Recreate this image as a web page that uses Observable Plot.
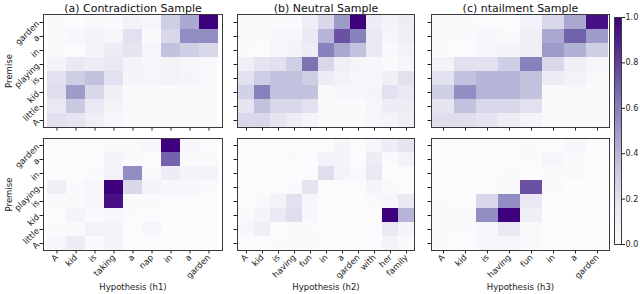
<!DOCTYPE html>
<html>
<head>
<meta charset="utf-8">
<script src="https://cdn.jsdelivr.net/npm/d3@7"></script>
<script src="https://cdn.jsdelivr.net/npm/@observablehq/plot@0.6"></script>
<style>
  html, body { margin: 0; padding: 0; background: #fff; }
  #chart { position: relative; width: 640px; height: 294px; overflow: hidden; font-family: "DejaVu Sans", sans-serif; }
  #chart svg { position: absolute; overflow: visible; }
</style>
</head>
<body>
<div id="chart"></div>
<script>
// Premise words (bottom -> top on the y axis)
const premise = ["A", "little", "kid", "is", "playing", "in", "a", "garden"];
// Hypothesis words
const h1 = ["A", "kid", "is", "taking", "a", "nap", "in", "a", "garden"];
const h2 = ["A", "kid", "is", "having", "fun", "in", "a", "garden", "with", "her", "family"];
const h3 = ["A", "kid", "is", "having", "fun", "in", "a", "garden"];
const titles = ["(a) Contradiction Sample", "(b) Neutral Sample", "(c) ntailment Sample"];
const xLabels = ["Hypothesis (h1)", "Hypothesis (h2)", "Hypothesis (h3)"];
const yLabel = "Premise";
const cbTicks = [0, 0.2, 0.4, 0.6, 0.8, 1.0];

// Attention matrices, rows listed top -> bottom (garden, a, in, playing, is, kid, little, A)
const contraTop = [
  [0.03, 0.01, 0.03, 0.03, 0.08, 0.05, 0.30, 0.45, 1.00],
  [0.02, 0.04, 0.07, 0.05, 0.20, 0.02, 0.25, 0.55, 0.55],
  [0.02, 0.01, 0.06, 0.12, 0.18, 0.05, 0.35, 0.30, 0.25],
  [0.07, 0.15, 0.12, 0.15, 0.07, 0.05, 0.07, 0.04, 0.03],
  [0.20, 0.30, 0.35, 0.20, 0.06, 0.05, 0.08, 0.06, 0.03],
  [0.22, 0.50, 0.25, 0.10, 0.03, 0.02, 0.02, 0.02, 0.02],
  [0.15, 0.32, 0.15, 0.07, 0.03, 0.02, 0.02, 0.02, 0.02],
  [0.20, 0.18, 0.10, 0.05, 0.03, 0.02, 0.02, 0.02, 0.02]
];
const contraBottom = [
  [0.01, 0.01, 0.01, 0.03, 0.03, 0.05, 1.00, 0.04, 0.01],
  [0.01, 0.01, 0.01, 0.06, 0.03, 0.01, 0.70, 0.02, 0.02],
  [0.01, 0.01, 0.02, 0.08, 0.55, 0.03, 0.12, 0.07, 0.08],
  [0.10, 0.02, 0.05, 1.00, 0.25, 0.07, 0.04, 0.04, 0.03],
  [0.03, 0.03, 0.04, 0.95, 0.03, 0.02, 0.01, 0.01, 0.01],
  [0.01, 0.06, 0.02, 0.04, 0.02, 0.01, 0.01, 0.01, 0.01],
  [0.02, 0.02, 0.08, 0.07, 0.01, 0.05, 0.01, 0.01, 0.01],
  [0.05, 0.12, 0.02, 0.07, 0.01, 0.01, 0.01, 0.01, 0.01]
];
const neutralTop = [
  [0.03, 0.03, 0.02, 0.02, 0.10, 0.25, 0.50, 1.00, 0.12, 0.07, 0.12],
  [0.03, 0.03, 0.04, 0.05, 0.15, 0.40, 0.75, 0.60, 0.15, 0.05, 0.10],
  [0.02, 0.01, 0.05, 0.07, 0.12, 0.60, 0.45, 0.35, 0.15, 0.03, 0.08],
  [0.10, 0.18, 0.20, 0.30, 0.65, 0.25, 0.10, 0.06, 0.04, 0.03, 0.05],
  [0.20, 0.30, 0.35, 0.35, 0.30, 0.12, 0.08, 0.04, 0.05, 0.10, 0.20],
  [0.28, 0.60, 0.35, 0.35, 0.35, 0.03, 0.04, 0.05, 0.06, 0.20, 0.15],
  [0.18, 0.35, 0.25, 0.25, 0.20, 0.03, 0.02, 0.02, 0.05, 0.12, 0.12],
  [0.25, 0.25, 0.18, 0.12, 0.06, 0.03, 0.03, 0.03, 0.05, 0.07, 0.10]
];
const neutralBottom = [
  [0.01, 0.01, 0.01, 0.01, 0.01, 0.01, 0.06, 0.01, 0.05, 0.12, 0.18],
  [0.01, 0.01, 0.01, 0.02, 0.01, 0.08, 0.06, 0.01, 0.12, 0.02, 0.08],
  [0.01, 0.01, 0.01, 0.01, 0.01, 0.22, 0.07, 0.03, 0.15, 0.01, 0.01],
  [0.01, 0.01, 0.01, 0.02, 0.18, 0.01, 0.01, 0.01, 0.06, 0.03, 0.01],
  [0.01, 0.03, 0.08, 0.20, 0.04, 0.01, 0.01, 0.01, 0.03, 0.05, 0.15],
  [0.03, 0.06, 0.15, 0.22, 0.04, 0.01, 0.01, 0.01, 0.01, 1.00, 0.40],
  [0.04, 0.10, 0.01, 0.02, 0.02, 0.01, 0.01, 0.01, 0.01, 0.15, 0.06],
  [0.01, 0.01, 0.02, 0.03, 0.03, 0.01, 0.01, 0.01, 0.01, 0.08, 0.02]
];
const entailTop = [
  [0.02, 0.02, 0.01, 0.01, 0.08, 0.25, 0.45, 0.95],
  [0.02, 0.02, 0.04, 0.03, 0.10, 0.45, 0.70, 0.50],
  [0.02, 0.01, 0.05, 0.06, 0.10, 0.50, 0.42, 0.30],
  [0.08, 0.20, 0.20, 0.30, 0.60, 0.25, 0.10, 0.05],
  [0.20, 0.35, 0.40, 0.40, 0.35, 0.12, 0.08, 0.03],
  [0.30, 0.55, 0.40, 0.40, 0.35, 0.03, 0.03, 0.02],
  [0.18, 0.35, 0.25, 0.25, 0.20, 0.02, 0.02, 0.02],
  [0.22, 0.22, 0.18, 0.12, 0.06, 0.02, 0.02, 0.02]
];
const entailBottom = [
  [0.01, 0.01, 0.01, 0.01, 0.02, 0.01, 0.04, 0.00],
  [0.01, 0.01, 0.01, 0.01, 0.02, 0.05, 0.02, 0.00],
  [0.01, 0.01, 0.01, 0.02, 0.01, 0.02, 0.02, 0.00],
  [0.01, 0.01, 0.01, 0.03, 0.75, 0.02, 0.00, 0.00],
  [0.02, 0.01, 0.25, 0.55, 0.15, 0.00, 0.00, 0.00],
  [0.02, 0.02, 0.55, 1.00, 0.10, 0.00, 0.00, 0.00],
  [0.02, 0.02, 0.04, 0.15, 0.03, 0.00, 0.00, 0.00],
  [0.02, 0.01, 0.05, 0.04, 0.03, 0.00, 0.00, 0.00]
];

const chart = document.getElementById("chart");
const colorOpts = {type: "linear", scheme: "purples", domain: [0, 1]};
const frameStroke = "#3a3a3a";

function panel({left, top, w, h, words, matrix, title, xlabel, showY, showXLabels}) {
  const mL = 44, mR = 4, mT = title ? 16 : 4, mB = showXLabels ? 46 : 6;
  const n = premise.length;
  const data = matrix.flatMap((row, r) => row.map((v, c) => ({x: c, y: n - 1 - r, v})));
  const marks = [
    Plot.cell(data, {x: "x", y: "y", fill: "v", inset: 0}),
    Plot.frame({stroke: frameStroke, strokeWidth: 1}),
    Plot.axisX({
      tickSize: 3.5, tickPadding: 2, fontSize: 8.5,
      tickRotate: showXLabels ? -45 : 0,
      tickFormat: showXLabels ? (i => words[i]) : (() => ""),
      label: showXLabels ? xlabel : null,
      labelAnchor: "center", labelOffset: 39, labelArrow: "none"
    }),
    Plot.axisY({
      tickSize: 3.5, tickPadding: 2, fontSize: 8.5,
      tickRotate: showY ? -45 : 0,
      tickFormat: showY ? (i => premise[i]) : (() => ""),
      label: showY ? yLabel : null,
      labelAnchor: "center", labelOffset: 38, labelArrow: "none"
    })
  ];
  if (title) {
    marks.push(Plot.text([title], {frameAnchor: "top", dy: -3, lineAnchor: "bottom", fontSize: 11, fill: "#111"}));
  }
  const svg = Plot.plot({
    width: w + mL + mR,
    height: h + mT + mB,
    marginLeft: mL, marginRight: mR, marginTop: mT, marginBottom: mB,
    style: {fontFamily: "DejaVu Sans, sans-serif", fontSize: "8.5px", color: "#222", background: "transparent"},
    x: {type: "band", domain: d3.range(words.length), padding: 0},
    y: {type: "band", domain: d3.range(n).reverse(), padding: 0},
    color: colorOpts,
    marks
  });
  svg.style.left = (left - mL) + "px";
  svg.style.top = (top - mT) + "px";
  chart.appendChild(svg);
}

const cols = [
  {left: 43, w: 179, words: h1, top: contraTop, bottom: contraBottom},
  {left: 237, w: 177, words: h2, top: neutralTop, bottom: neutralBottom},
  {left: 431, w: 178, words: h3, top: entailTop, bottom: entailBottom}
];
const rowTop = 14, rowH = 113, row2Top = 138, row2H = 112;

cols.forEach((c, i) => {
  panel({left: c.left, top: rowTop, w: c.w, h: rowH, words: c.words, matrix: c.top,
         title: titles[i], xlabel: null, showY: i === 0, showXLabels: false});
  panel({left: c.left, top: row2Top, w: c.w, h: row2H, words: c.words, matrix: c.bottom,
         title: null, xlabel: xLabels[i], showY: i === 0, showXLabels: true});
});

// Colorbar
(function () {
  const left = 614, top = 17, w = 7, h = 227;
  const mL = 0, mR = 18, mT = 4, mB = 4;
  const svg = Plot.plot({
    width: w + mL + mR, height: h + mT + mB,
    marginLeft: mL, marginRight: mR, marginTop: mT, marginBottom: mB,
    style: {fontFamily: "DejaVu Sans, sans-serif", fontSize: "8px", color: "#222", background: "transparent"},
    x: {domain: [0, 1], axis: null},
    y: {domain: [0, 1]},
    color: colorOpts,
    marks: [
      Plot.raster({x1: 0, x2: 1, y1: 0, y2: 1, fill: (x, y) => y, width: 1, height: 227, imageRendering: "auto"}),
      Plot.frame({stroke: frameStroke, strokeWidth: 1}),
      Plot.axisY({anchor: "right", ticks: cbTicks, tickFormat: d3.format(".1f"), tickSize: 3, tickPadding: 1, fontSize: 8, label: null})
    ]
  });
  svg.style.left = (left - mL) + "px";
  svg.style.top = (top - mT) + "px";
  chart.appendChild(svg);
})();
</script>
</body>
</html>
